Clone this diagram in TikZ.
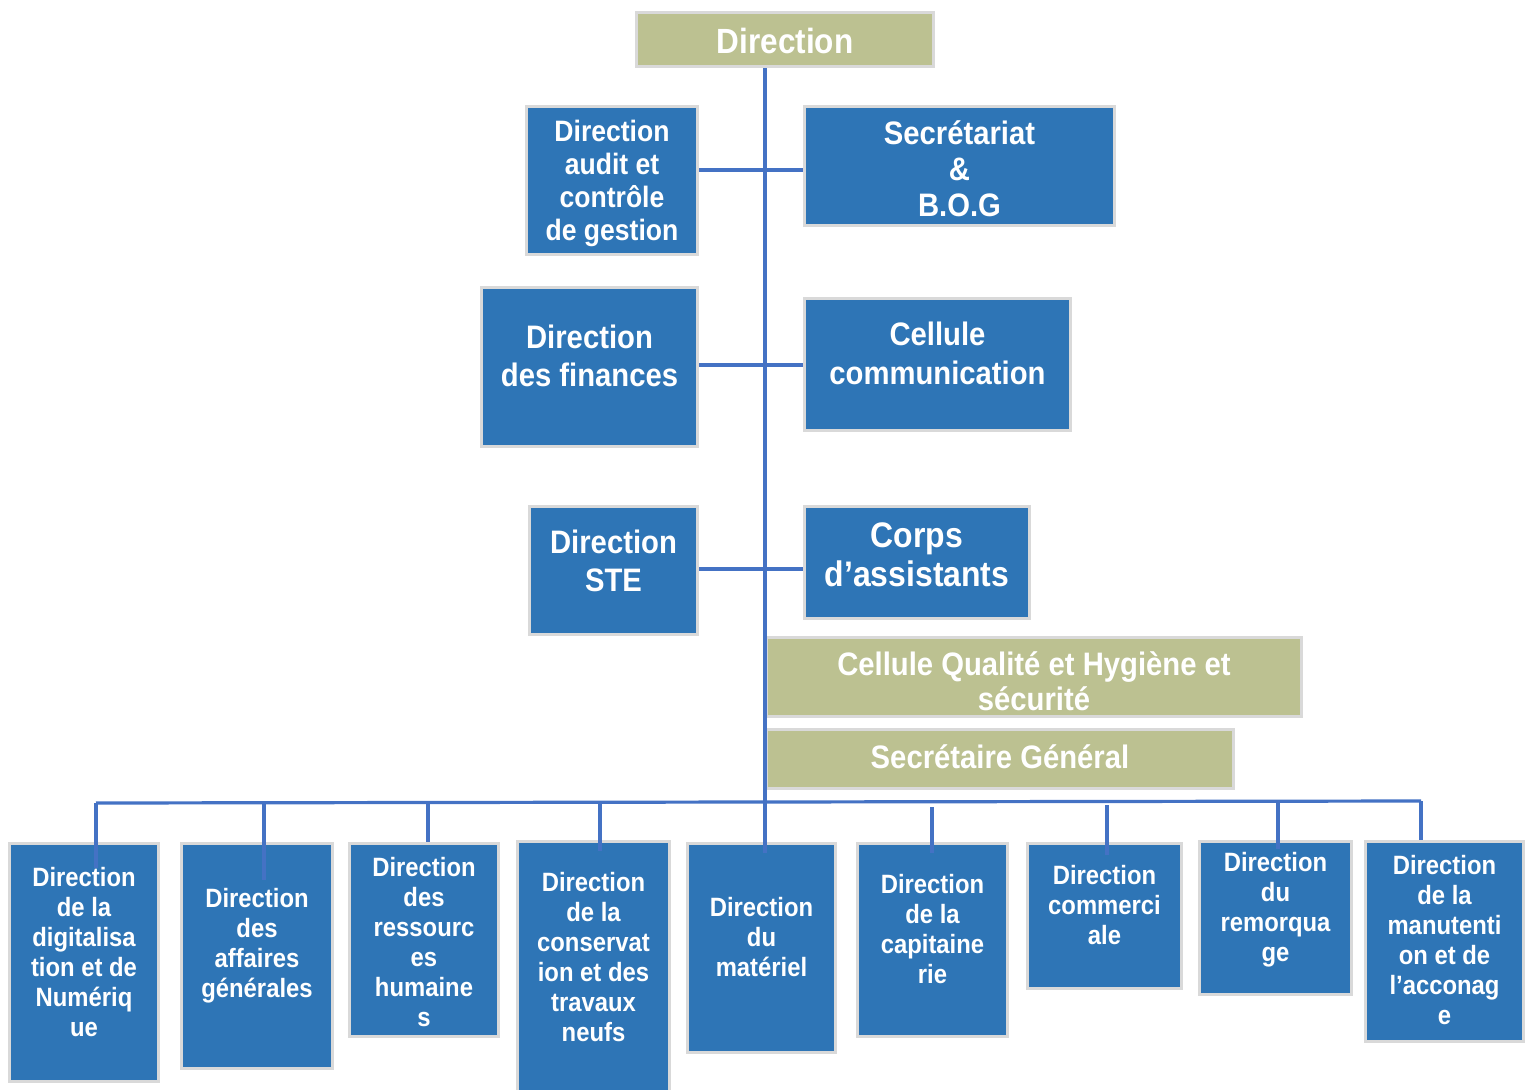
\documentclass[tikz,border=0pt]{standalone}
\usepackage{fontspec}
\setmainfont[FakeStretch=0.9]{Liberation Sans}
\definecolor{dblue}{RGB}{46,117,182}
\definecolor{lineblue}{RGB}{68,114,196}
\definecolor{olivefill}{RGB}{188,193,145}
\definecolor{boxline}{RGB}{217,217,217}
\newcommand\fsz[2]{\fontsize{#1}{#2}\selectfont\bfseries}
\tikzset{
  box/.style={draw=boxline, line width=3pt, rectangle, inner sep=0pt},
  bluebox/.style={box, fill=dblue},
  olivebox/.style={box, fill=olivefill},
  txt/.style={text=white, align=center, inner sep=0pt},
  conn/.style={draw=lineblue, line width=3.2pt},
  bot/.style={txt, font={\fsz{26.5}{30}}}
}
\begin{document}
\begin{tikzpicture}[x=1pt,y=-1pt]
\useasboundingbox (0,0) rectangle (1527,1090);
% ---------- top boxes
\node[olivebox, minimum width=297, minimum height=54] (dir) at (785,39.5) {};
\node[txt, font={\fsz{35}{40}}] (dirt) at ([yshift=-1pt]dir.center) {Direction};

\node[bluebox, minimum width=171, minimum height=148] (audit) at (612,180.5) {};
\node[txt, font={\fsz{29.5}{33}}] (auditt) at ([yshift=-3pt]audit.center) {Direction\\audit et\\contrôle\\de gestion};

\node[bluebox, minimum width=310, minimum height=119] (secr) at (959.5,166) {};
\node[txt, font={\fsz{32.5}{36}}] (secrt) at ([yshift=-3pt]secr.center) {Secrétariat\\\&\\B.O.G};

\node[bluebox, minimum width=216, minimum height=159] (fin) at (589.5,367) {};
\node[txt, font={\fsz{32.5}{38}}] (fint) at ([yshift=11pt]fin.center) {Direction\\des finances};

\node[bluebox, minimum width=266, minimum height=132] (comm) at (937.5,364.5) {};
\node[txt, font={\fsz{32.5}{39}}] (commt) at ([yshift=11pt]comm.center) {Cellule\\communication};

\node[bluebox, minimum width=168, minimum height=128] (ste) at (613.5,570.5) {};
\node[txt, font={\fsz{32.5}{38}}] (stet) at ([yshift=10pt]ste.center) {Direction\\STE};

\node[bluebox, minimum width=225, minimum height=112] (corps) at (917,562.5) {};
\node[txt, font={\fsz{35.5}{39}}] (corpst) at ([yshift=8pt]corps.center) {Corps\\d’assistants};

\node[olivebox, minimum width=535, minimum height=79] (qual) at (1034,677) {};
\node[txt, font={\fsz{32.5}{35}}] (qualt) at ([yshift=-4pt]qual.center) {Cellule Qualité et Hygiène et\\sécurité};

\node[olivebox, minimum width=467, minimum height=59] (sg) at (1000,759) {};
\node[txt, font={\fsz{32.5}{36}}] (sgt) at ([yshift=2pt]sg.center) {Secrétaire Général};

% ---------- bottom boxes
\node[bluebox, minimum width=149, minimum height=238] (b1) at (84,962.5) {};
\node[bot] (b1t) at ([yshift=10pt]b1.center) {Direction\\de la\\digitalisa\\tion et de\\Numériq\\ue};

\node[bluebox, minimum width=151, minimum height=225] (b2) at (257,956) {};
\node[bot] (b2t) at ([yshift=10pt]b2.center) {Direction\\des\\affaires\\générales};

\node[bluebox, minimum width=149, minimum height=193] (b3) at (424,940) {};
\node[bot] (b3t) at ([yshift=-2pt]b3.center) {Direction\\des\\ressourc\\es\\humaine\\s};

\node[bluebox, minimum width=152, minimum height=257] (b4) at (593.5,970) {};
\node[bot] (b4t) at ([yshift=12.5pt]b4.center) {Direction\\de la\\conservat\\ion et des\\travaux\\neufs};

\node[bluebox, minimum width=148, minimum height=209] (b5) at (761.5,948) {};
\node[bot] (b5t) at ([yshift=11pt]b5.center) {Direction\\du\\matériel};

\node[bluebox, minimum width=150, minimum height=193] (b6) at (932.5,940) {};
\node[bot] (b6t) at ([yshift=11pt]b6.center) {Direction\\de la\\capitaine\\rie};

\node[bluebox, minimum width=154, minimum height=145] (b7) at (1104.5,916) {};
\node[bot] (b7t) at ([yshift=10.5pt]b7.center) {Direction\\commerci\\ale};

\node[bluebox, minimum width=152, minimum height=153] (b8) at (1275.5,918) {};
\node[bot] (b8t) at ([yshift=8pt]b8.center) {Direction\\du\\remorqua\\ge};

\node[bluebox, minimum width=158, minimum height=200] (b9) at (1444.5,941.5) {};
\node[bot] (b9t) at ([yshift=1.5pt]b9.center) {Direction\\de la\\manutenti\\on et de\\l’acconag\\e};

% ---------- connectors
\coordinate (sp) at (765,0);
\draw[conn] (dir.south -| sp) -- ([yshift=-11pt]b5.north -| sp);
\draw[conn] (audit.east |- 0,170) -- (secr.west |- 0,170);
\draw[conn] (fin.east |- 0,365) -- (comm.west |- 0,365);
\draw[conn] (ste.east |- 0,569) -- (corps.west |- 0,569);

\coordinate (j1) at (96,803);
\coordinate (j2) at (264,803);
\coordinate (j3) at (428,803);
\coordinate (j4) at (600,803);
\coordinate (j6) at (932,807);
\coordinate (j7) at (1107,805);
\coordinate (j8) at (1278,803);
\coordinate (j9) at (1421,801);
\draw[conn] (j1) -- (j9);
\draw[conn] (j1) -- ([yshift=-26pt]b1.north -| j1);
\draw[conn] (j2) -- ([yshift=-38pt]b2.north -| j2);
\draw[conn] (j3) -- (b3.north -| j3);
\draw[conn] (j4) -- ([yshift=-11pt]b4.north -| j4);
\draw[conn] (j6) -- ([yshift=-11pt]b6.north -| j6);
\draw[conn] (j7) -- ([yshift=-13pt]b7.north -| j7);
\draw[conn] (j8) -- ([yshift=-9pt]b8.north -| j8);
\draw[conn] (j9) -- (b9.north -| j9);
\end{tikzpicture}
\end{document}
